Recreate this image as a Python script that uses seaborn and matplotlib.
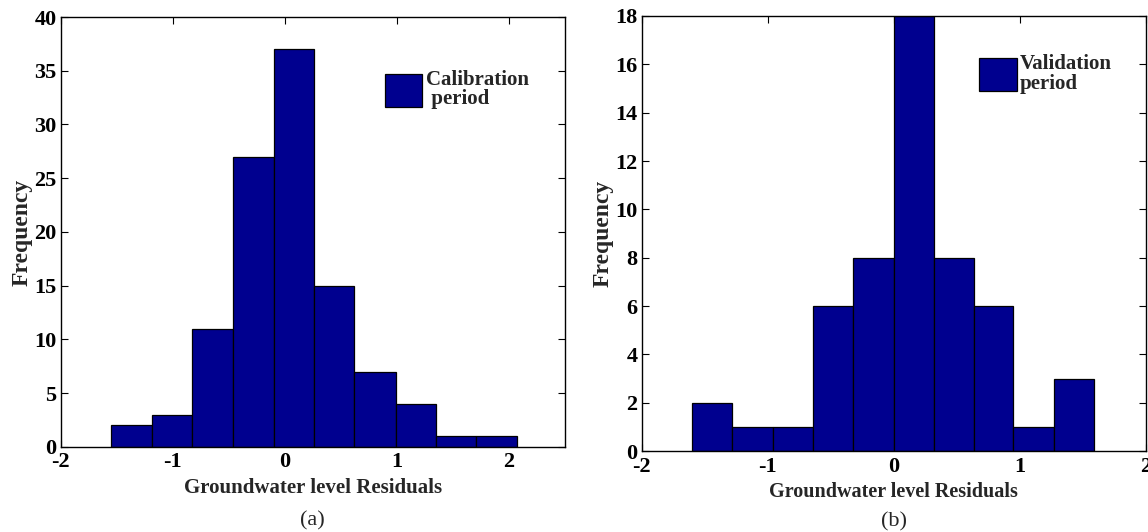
import numpy as np
import pandas as pd
import matplotlib
matplotlib.use("Agg")
import matplotlib.pyplot as plt
import seaborn as sns

# ---- data ----
calib_edges = [-1.55, -1.19, -0.83, -0.46, -0.10, 0.26, 0.62, 0.99, 1.35, 1.71, 2.07]
calib_counts = [2, 3, 11, 27, 37, 15, 7, 4, 1, 1]
valid_edges = [-1.60, -1.28, -0.96, -0.64, -0.32, 0.00, 0.32, 0.64, 0.95, 1.27, 1.59]
valid_counts = [2, 1, 1, 6, 8, 18, 8, 6, 1, 3]

calib_xticks = [-2, -1, 0, 1, 2]
calib_yticks = [0, 5, 10, 15, 20, 25, 30, 35, 40]
valid_xticks = [-2, -1, 0, 1, 2]
valid_yticks = [0, 2, 4, 6, 8, 10, 12, 14, 16, 18]

calib_label = "Calibration\n period"
valid_label = "Validation\nperiod"
xlabel = "Groundwater level Residuals"
ylabel = "Frequency"

sns.set_style("ticks")
plt.rcParams['font.family'] = ['Liberation Serif', 'DejaVu Serif']

BAR = "#00008f"

fig = plt.figure(figsize=(11.48, 5.32), dpi=100)
ax1 = fig.add_axes([0.053, 0.160, 0.439, 0.808])
ax2 = fig.add_axes([0.559, 0.152, 0.439, 0.818])


def draw(ax, edges, counts, label, xlim, ylim, xticks, yticks,
         leg_anchor, sub, sub_y, xl_size):
    centers = [(edges[i] + edges[i + 1]) / 2 for i in range(len(counts))]
    df = pd.DataFrame({"x": centers, "w": counts})
    sns.histplot(data=df, x="x", weights="w", bins=edges, ax=ax,
                 color=BAR, alpha=1.0, edgecolor="black", linewidth=0.9,
                 label=label)
    ax.set_xlim(*xlim)
    ax.set_ylim(*ylim)
    ax.set_xticks(xticks)
    ax.set_yticks(yticks)
    ax.set_xticklabels([str(t) for t in xticks], fontsize=16, fontweight="bold")
    ax.set_yticklabels([str(t) for t in yticks], fontsize=16, fontweight="bold")
    ax.tick_params(direction="in", length=5, width=0.8, top=True, right=True,
                   colors="black")
    ax.tick_params(axis="x", pad=4)
    ax.tick_params(axis="y", pad=3)
    for s in ax.spines.values():
        s.set_visible(True)
        s.set_color("black")
        s.set_linewidth(1.0)
    ax.set_xlabel(xlabel, fontsize=xl_size, fontweight="bold", labelpad=4)
    ax.set_ylabel(ylabel, fontsize=17, fontweight="bold", labelpad=1)
    leg = ax.legend(loc="upper left", bbox_to_anchor=leg_anchor, frameon=False,
                    prop={"size": 15, "weight": "bold"}, handlelength=1.8,
                    handleheight=2.05, handletextpad=0.15, borderpad=0,
                    borderaxespad=0)
    for t in leg.get_texts():
        t.set_linespacing(0.95)
    ax.text(0.5, sub_y, sub, transform=ax.transAxes, ha="center",
            va="center", fontsize=16)


draw(ax1, calib_edges, calib_counts, calib_label, (-2, 2.5), (0, 40),
     calib_xticks, calib_yticks, (0.643, 0.877), "(a)", -0.172, 15)
draw(ax2, valid_edges, valid_counts, valid_label, (-2, 2), (0, 18),
     valid_xticks, valid_yticks, (0.67, 0.912), "(b)", -0.163, 14.5)

fig.savefig("out.png", dpi=100)
